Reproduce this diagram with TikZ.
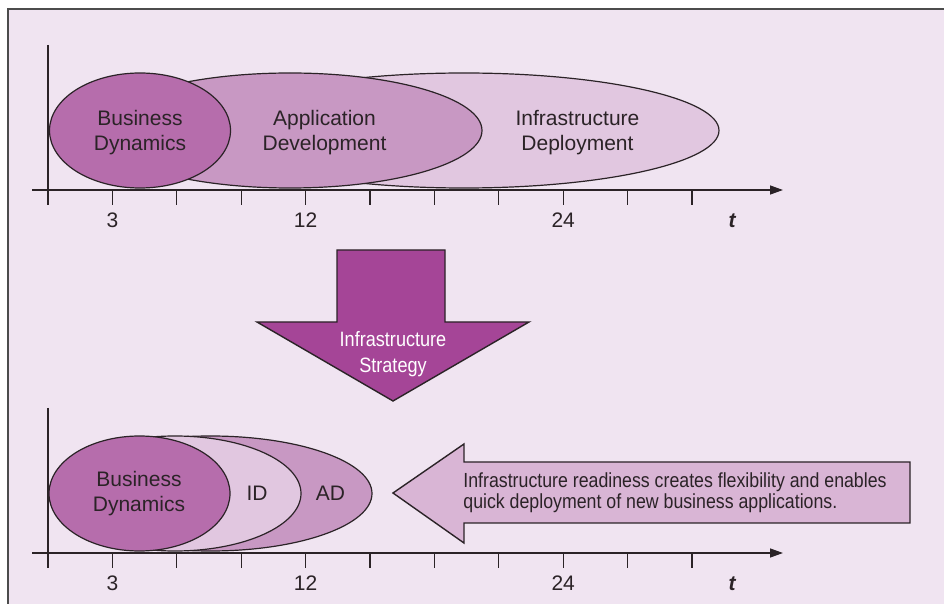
\documentclass[tikz,border=0pt]{standalone}
\usepackage{fontspec}
\setmainfont{Liberation Sans}
\newfontfamily\condfont[FakeStretch=0.87]{Liberation Sans}
\usetikzlibrary{shapes.geometric,arrows.meta}

\definecolor{fond}{HTML}{F0E4F1}
\definecolor{bdcol}{HTML}{B66DAC}
\definecolor{adcol}{HTML}{C898C3}
\definecolor{idcol}{HTML}{E1C7E0}
\definecolor{strat}{HTML}{A54597}
\definecolor{ready}{HTML}{D9B5D5}
\definecolor{trait}{HTML}{2B2327}

\tikzset{
	bulle/.style={ellipse, draw=trait, line width=0.6pt, inner sep=0pt, minimum height=57.5pt},
	etiq/.style={align=center, text=trait, inner sep=0pt, font=\fontsize{10.5}{12.5}\selectfont},
	axe/.style={draw=trait, line width=0.65pt},
	grad/.style={text=trait, inner sep=0pt, anchor=base, font=\fontsize{10.5}{12.5}\selectfont},
	fleche/.style={draw=trait, line width=0.7pt, line join=miter},
}

\begin{document}
\begin{tikzpicture}[x=0.5pt,y=-0.5pt]
		\useasboundingbox (0,0) rectangle (944,604);
		% Fond et cadre
		\fill[white] (0,0) rectangle (944,604);
		\fill[fond] (8,9) rectangle (944,604);
		\draw[line width=1pt, draw=black!70] (944,9) -- (8,9) -- (8,604);
		
		% Situation actuelle : trois phases successives
		\node[bulle, fill=idcol, minimum width=255pt] (ID1) at (464,130.5) {};
		\node[bulle, fill=adcol, minimum width=192pt] (AD1) at (290,130.5) {};
		\node[bulle, fill=bdcol, minimum width=90.5pt] (BD1) at (140,130.5) {};
		\node[etiq] (tBD1) at (140,133) {Business\\Dynamics};
		\node[etiq] (tAD1) at (324.5,133) {Application\\Development};
		\node[etiq] (tID1) at (577.5,133) {Infrastructure\\Deployment};
		
		% Axes du haut
		\coordinate (Y1) at (48,45);
		\coordinate (G1) at (32,190);
		\coordinate (X1) at (783,190);
		\draw[axe] (Y1) -- (48,205);
		\draw[axe, -{Triangle[length=6.5pt,width=4.5pt]}] (G1) -- (X1);
		\foreach \k in {1,...,10}
			\draw[axe] (48+\k*64.4,190) -- ++(0,15);
		\foreach \v/\k in {3/1,12/4,24/8}
			\node[grad] (h\v) at (48+\k*64.4,228) {\v};
		\node[grad, font=\fontsize{10.5}{12.5}\selectfont\bfseries\itshape] (ht) at (732,228) {t};
		
		% Flèche de la stratégie
		\draw[fleche, fill=strat] (337,250) -- (337,322) -- (257,322) -- (393,401)
			-- (529,322) -- (445,322) -- (445,250) -- cycle;
		\node[align=center, text=white, inner sep=0pt, font=\condfont\fontsize{10.4}{13}\selectfont]
			(strat) at (393,354) {Infrastructure\\Strategy};
		
		% Situation visée
		\node[bulle, fill=adcol, minimum width=161.5pt] (AD2) at (210.5,493.5) {};
		\node[bulle, fill=idcol, minimum width=126pt] (ID2) at (175,493.5) {};
		\node[bulle, fill=bdcol, minimum width=90.5pt] (BD2) at (139.5,493.5) {};
		\node[etiq] (tBD2) at (139,494) {Business\\Dynamics};
		\node[etiq, anchor=base] (tID2) at (257,501) {ID};
		\node[etiq, anchor=base] (tAD2) at (330.5,501) {AD};
		
		% Flèche de gauche
		\draw[fleche, fill=ready] (393,493) -- (464,444) -- (464,462) -- (910,462)
			-- (910,523) -- (464,523) -- (464,543) -- cycle;
		\node[align=left, text=trait, inner sep=0pt, anchor=west, font=\condfont\fontsize{10.2}{10.6}\selectfont]
			(ready) at (463,493) {Infrastructure readiness creates flexibility and enables\\quick deployment of new business applications.};
		
		% Axes du bas
		\coordinate (Y2) at (48,408);
		\coordinate (G2) at (32,553);
		\coordinate (X2) at (783,553);
		\draw[axe] (Y2) -- (48,568);
		\draw[axe, -{Triangle[length=6.5pt,width=4.5pt]}] (G2) -- (X2);
		\foreach \k in {1,...,10}
			\draw[axe] (48+\k*64.4,553) -- ++(0,15);
		\foreach \v/\k in {3/1,12/4,24/8}
			\node[grad] (b\v) at (48+\k*64.4,591) {\v};
		\node[grad, font=\fontsize{10.5}{12.5}\selectfont\bfseries\itshape] (bt) at (732,591) {t};
	\end{tikzpicture}
\end{document}
